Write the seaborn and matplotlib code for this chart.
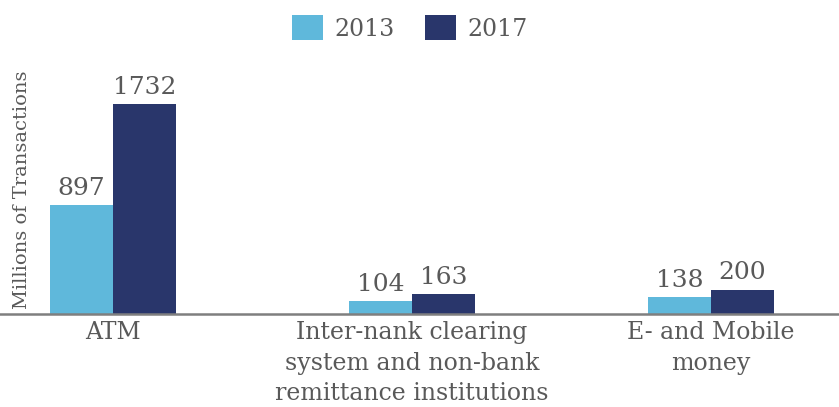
import matplotlib
matplotlib.use("Agg")
import matplotlib.pyplot as plt
import seaborn as sns
import pandas as pd

categories = ["ATM",
              "Inter-nank clearing\nsystem and non-bank\nremittance institutions",
              "E- and Mobile\nmoney"]
years = ["2013", "2017"]
values_2013 = [897, 104, 138]
values_2017 = [1732, 163, 200]

df = pd.DataFrame({
    "category": categories * 2,
    "year": [years[0]] * 3 + [years[1]] * 3,
    "value": values_2013 + values_2017,
})

sns.set_theme(style="white")
plt.rcParams["font.family"] = ["DejaVu Serif"]
grey = "#595959"
palette = {"2013": "#5FB8DB", "2017": "#29366B"}

W, H = 839, 407
fig = plt.figure(figsize=(W / 100, H / 100), dpi=100)
ax = fig.add_axes([0, 93 / H, 1, (314 - 50) / H])

sns.barplot(data=df, x="category", y="value", hue="year", palette=palette,
            width=0.42, saturation=1, ax=ax, order=categories, hue_order=years,
            linewidth=0, edgecolor="none")

ax.set_xlim(-113 / 299, (839 - 113) / 299)
ax.set_ylim(0, 264 / 0.1212)

for cont in ax.containers:
    for bar in cont:
        h = bar.get_height()
        ax.annotate(f"{int(round(h))}", (bar.get_x() + bar.get_width() / 2, h),
                    xytext=(0, 4), textcoords="offset points",
                    ha="center", va="bottom", fontsize=18, color=grey)

for s in ["top", "right", "left"]:
    ax.spines[s].set_visible(False)
ax.spines["bottom"].set_color("#7F7F7F")
ax.spines["bottom"].set_linewidth(1.8)
ax.set_yticks([])
ax.set_xlabel("")
ax.set_ylabel("")
ax.tick_params(axis="x", length=0, pad=5, labelsize=17, colors=grey)
for t in ax.get_xticklabels():
    t.set_linespacing(1.42)
    t.set_color(grey)

fig.text(22 / W, 1 - 190 / H, "Millions of Transactions", rotation=90,
         ha="center", va="center", fontsize=14, color=grey)

handles, labels = ax.get_legend_handles_labels()
ax.legend(handles, labels, loc="center", bbox_to_anchor=(410 / W, 1 - 28 / H),
          bbox_transform=fig.transFigure, ncol=2, frameon=False,
          fontsize=17, labelcolor=grey, handlelength=1.3, handleheight=1.2,
          columnspacing=1.3, handletextpad=0.5)

fig.savefig("out.png", dpi=100)
